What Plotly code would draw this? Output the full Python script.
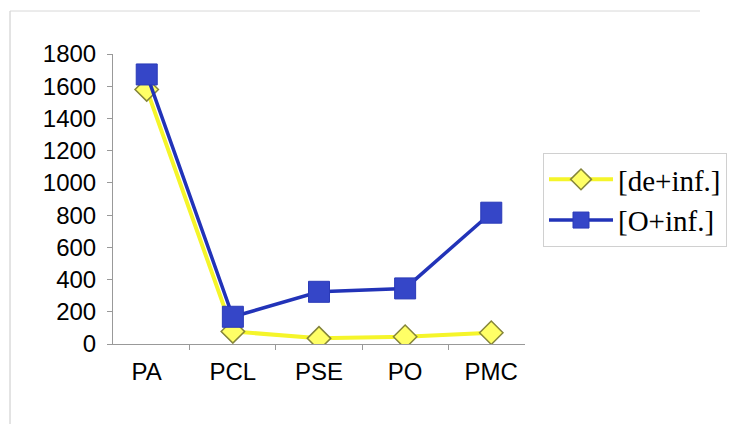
import plotly.graph_objects as go

categories = ["PA", "PCL", "PSE", "PO", "PMC"]
de_inf = [1580, 78, 35, 45, 70]
o_inf = [1673, 169, 324, 345, 815]
y_ticks = [0, 200, 400, 600, 800, 1000, 1200, 1400, 1600, 1800]

W, H = 732, 424
L, R, T, B = 113, 0, 54, 80
PLOT_RIGHT = 525
PW, PH = W - L - R, H - T - B


def px(x):
    return (x - L) / PW


def py(y):
    return (H - B - y) / PH


fig = go.Figure()
fig.add_trace(go.Scatter(
    x=categories, y=de_inf, name="[de+inf.]", mode="lines+markers",
    line=dict(color="#f5f52a", width=4),
    marker=dict(symbol="diamond", size=18, color="#ffff66",
                line=dict(color="#85853a", width=1.5)),
))
fig.add_trace(go.Scatter(
    x=categories, y=o_inf, name="[O+inf.]", mode="lines+markers",
    line=dict(color="#2233b8", width=3.5),
    marker=dict(symbol="square", size=21, color="#3546c8",
                line=dict(color="#2a3ab8", width=1)),
))

fig.update_layout(
    width=W, height=H, autosize=False,
    margin=dict(l=L, r=R, t=T, b=B, autoexpand=False),
    paper_bgcolor="white", plot_bgcolor="white",
    font=dict(family="Liberation Sans, Arial", size=22, color="black"),
    showlegend=True,
    legend=dict(
        x=px(543), y=py(153),
        xanchor="left", yanchor="top",
        font=dict(family="Liberation Serif, Times New Roman", size=29, color="black"),
        bordercolor="#d0d0d0", borderwidth=1, bgcolor="white",
        itemwidth=64, tracegroupgap=0,
    ),
    shapes=[
        dict(type="line", xref="paper", yref="paper",
             x0=px(10), x1=px(10), y0=py(430), y1=py(11),
             line=dict(color="#c8c8c8", width=1)),
        dict(type="line", xref="paper", yref="paper",
             x0=px(10), x1=px(700), y0=py(11), y1=py(11),
             line=dict(color="#d8d8d8", width=1)),
    ],
)
fig.update_xaxes(
    type="category", domain=[0, px(PLOT_RIGHT)],
    showgrid=False, showline=True, linecolor="#999999", linewidth=1,
    ticks="outside", tickson="boundaries", ticklen=5, tickcolor="#999999",
    tickfont=dict(size=24), ticklabelstandoff=6,
)
fig.update_yaxes(
    range=[0, 1800], tickvals=y_ticks, showgrid=False, zeroline=False,
    showline=True, linecolor="#999999", linewidth=1,
    ticks="outside", ticklen=5, tickcolor="#999999",
    tickfont=dict(size=24), ticklabelstandoff=6,
)

fig.write_html(
    "out.html",
    config={"displayModeBar": False},
    post_script="document.body.style.margin='0';document.body.style.overflow='hidden';",
)
